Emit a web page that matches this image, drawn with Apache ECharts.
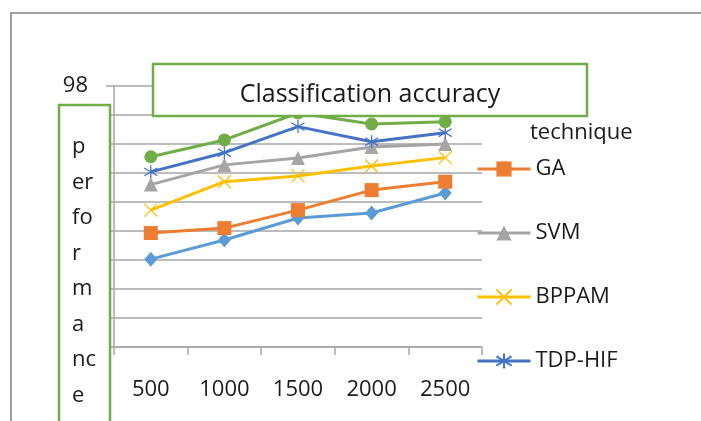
<!DOCTYPE html>
<html>
<head>
<meta charset="utf-8">
<script src="https://cdn.jsdelivr.net/npm/echarts@6/dist/echarts.min.js"></script>
<style>
  html, body { margin: 0; padding: 0; background: #fff; }
  #chart { width: 701px; height: 421px; }
</style>
</head>
<body>
<div id="chart"></div>
<script>
// ---- data ----
const categories = ['500', '1000', '1500', '2000', '2500'];
const seriesBase = [92.03, 92.69, 93.45, 93.62, 94.31];   // light blue diamonds (legend entry cut off)
const gaValues = [92.93, 93.10, 93.72, 94.41, 94.70];
const svmValues = [94.60, 95.28, 95.52, 95.90, 96.00];
const bppamValues = [93.72, 94.70, 94.90, 95.24, 95.53];
const tdpHifValues = [95.04, 95.70, 96.60, 96.08, 96.39];
const seriesTop = [95.56, 96.14, 97.07, 96.69, 96.77];    // green circles (legend entry cut off)
const legendNames = ['GA', 'SVM', 'BPPAM', 'TDP-HIF'];
const titleText = 'Classification accuracy';
const yTitleLines = ['p', 'er', 'fo', 'r', 'm', 'a', 'nc', 'e'];
const legendTitle = 'technique';

const FONT = '"Open Sans", "Liberation Sans", sans-serif';
const GREEN_BOX = '#70AD47';
const GRID = '#a6a6a6';

const X_PATH = 'path://M0,0L10,10M10,0L0,10';
const STAR_PATH = 'path://M5,0L5,10M0,2L10,8M0,8L10,2';

function lineSeries(name, data, color, symbol, size, stroked) {
  return {
    name: name,
    type: 'line',
    data: data,
    symbol: symbol,
    symbolSize: size,
    showAllSymbol: true,
    lineStyle: { color: color, width: 3 },
    itemStyle: stroked
      ? { color: color, borderColor: color, borderWidth: 1.3 }
      : { color: color },
    emphasis: { disabled: true },
    animation: false,
    z: 2
  };
}

const chart = echarts.init(document.getElementById('chart'), null, { renderer: 'canvas' });
chart.setOption({
  backgroundColor: '#ffffff',
  animation: false,
  textStyle: { fontFamily: FONT },
  grid: { left: 114, top: 86, right: 219, bottom: 74, containLabel: false },
  xAxis: {
    type: 'category',
    data: categories,
    boundaryGap: true,
    axisLine: { lineStyle: { color: GRID, width: 1.5 } },
    axisTick: { show: true, alignWithLabel: false, length: 8, lineStyle: { color: GRID, width: 1.5 } },
    axisLabel: { fontSize: 22, fontFamily: FONT, color: '#1a1a1a', margin: 32 },
    splitLine: { show: false }
  },
  yAxis: {
    type: 'value',
    min: 89,
    max: 98,
    interval: 1,
    axisLine: { show: true, lineStyle: { color: GRID, width: 1.5 } },
    axisTick: { show: true, length: 8, lineStyle: { color: GRID, width: 1.5 } },
    axisLabel: { fontSize: 22, fontFamily: FONT, color: '#1a1a1a', margin: 26 },
    splitLine: { show: true, lineStyle: { color: GRID, width: 1.5 } }
  },
  legend: {
    orient: 'vertical',
    left: 471,
    top: 153,
    data: legendNames,
    itemWidth: 53,
    itemHeight: 19,
    itemGap: 42,
    selectedMode: false,
    lineStyle: { width: 3 },
    textStyle: { fontSize: 22, fontFamily: FONT, color: '#1a1a1a', lineHeight: 22 }
  },
  series: [
    lineSeries('Series 1', seriesBase, '#5B9BD5', 'diamond', [13, 15], false),
    lineSeries('GA', gaValues, '#ED7D31', 'rect', 14, false),
    lineSeries('SVM', svmValues, '#A5A5A5', 'triangle', 14, false),
    lineSeries('BPPAM', bppamValues, '#FFC000', X_PATH, 13, true),
    lineSeries('TDP-HIF', tdpHifValues, '#4472C4', STAR_PATH, 13, true),
    lineSeries('Series 6', seriesTop, '#70AD47', 'circle', 13, false)
  ],
  graphic: [
    { type: 'line', shape: { x1: 10, y1: 13, x2: 701, y2: 13 }, style: { stroke: '#a0a0a0', lineWidth: 2 }, z: 0 },
    { type: 'line', shape: { x1: 11, y1: 13, x2: 11, y2: 421 }, style: { stroke: '#a0a0a0', lineWidth: 2 }, z: 0 },
    { type: 'rect', shape: { x: 153, y: 64, width: 434, height: 52 }, style: { fill: '#ffffff', stroke: GREEN_BOX, lineWidth: 2.5 }, z: 100 },
    { type: 'text', x: 370, y: 95, style: { text: titleText, font: '25px ' + FONT, fill: '#1a1a1a', textAlign: 'center', textVerticalAlign: 'middle' }, z: 101 },
    { type: 'rect', shape: { x: 59, y: 105, width: 51, height: 340 }, style: { fill: '#ffffff', stroke: GREEN_BOX, lineWidth: 2.5 }, z: 100 },
    { type: 'text', x: 72, y: 129, style: { text: yTitleLines.join('\n'), font: '22px ' + FONT, lineHeight: 35.5, fill: '#1a1a1a', textAlign: 'left', textVerticalAlign: 'top' }, z: 101 },
    { type: 'text', x: 530, y: 133, style: { text: legendTitle, font: '22px ' + FONT, fill: '#1a1a1a', textAlign: 'left', textVerticalAlign: 'middle' }, z: 101 }
  ]
});
</script>
</body>
</html>
